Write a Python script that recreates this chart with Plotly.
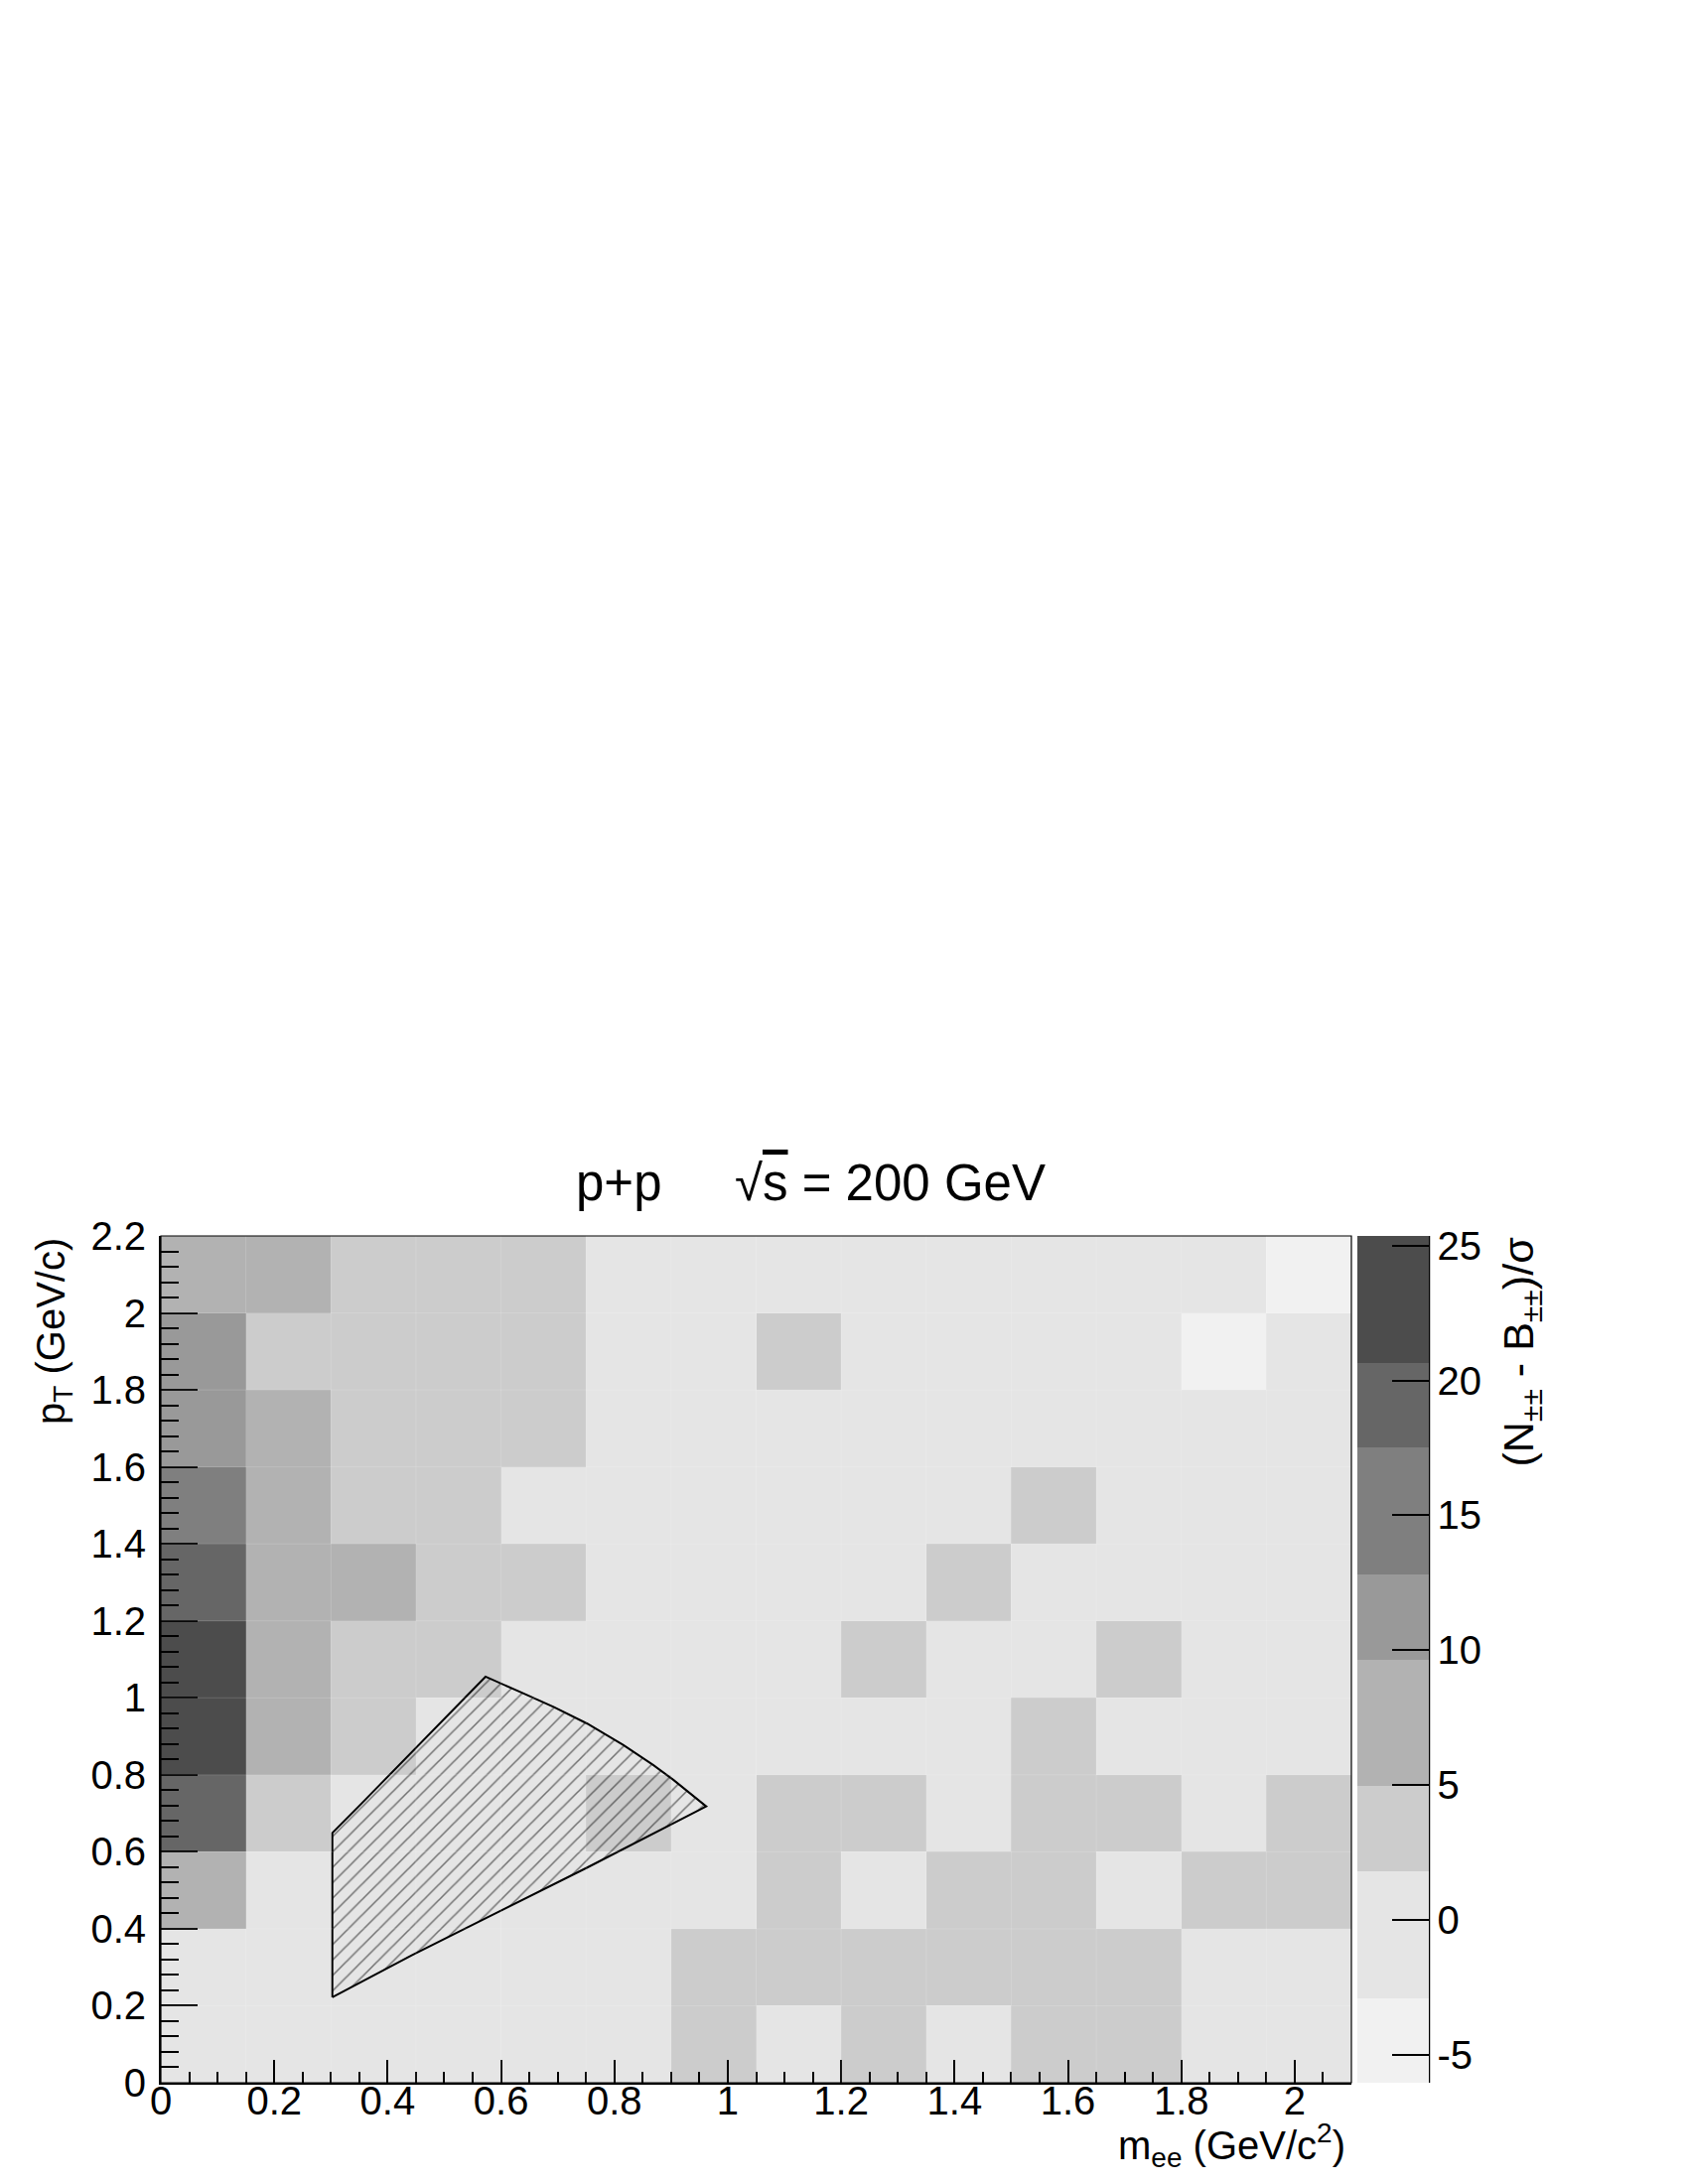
import plotly.graph_objects as go

# ---------------- data ----------------
m_edges = [0.0, 0.15, 0.3, 0.45, 0.6, 0.75, 0.9, 1.05, 1.2, 1.35, 1.5, 1.65, 1.8, 1.95, 2.1]
pt_edges = [0.0, 0.2, 0.4, 0.6, 0.8, 1.0, 1.2, 1.4, 1.6, 1.8, 2.0, 2.2]

# (N - B)/sigma per cell, one list per pT bin (bottom to top), columns follow m_ee bins
sig_pt_00_02 = [0.6, 0.2, -0.4, 0.8, -0.2, 0.5, 3.1, 0.9, 2.8, -0.6, 3.4, 2.7, 0.3, -0.9]
sig_pt_02_04 = [1.1, 0.4, 0.7, -0.3, 0.6, 1.2, 3.6, 2.9, 3.3, 2.5, 3.0, 2.7, -0.5, 0.1]
sig_pt_04_06 = [7.2, 1.3, 0.8, 0.2, 0.5, -0.1, 0.9, 2.6, -0.7, 3.2, 2.9, 0.4, 2.4, 3.5]
sig_pt_06_08 = [19.1, 4.2, 1.4, 0.9, 0.6, 2.8, 1.0, 3.1, 2.6, -0.2, 3.8, 2.4, -0.8, 2.9]
sig_pt_08_10 = [23.4, 7.9, 3.9, 1.2, 0.7, 0.3, 0.8, -0.4, 0.5, 0.9, 2.7, -0.6, 0.2, 1.0]
sig_pt_10_12 = [25.3, 7.4, 4.1, 3.3, 1.5, 0.6, -0.3, 0.4, 2.9, 0.7, -0.8, 2.5, 0.1, -0.4]
sig_pt_12_14 = [19.8, 8.3, 6.1, 4.4, 3.7, 0.9, 0.2, -0.6, 0.8, 3.0, 1.1, -0.2, 0.5, 0.3]
sig_pt_14_16 = [15.6, 7.1, 4.0, 3.6, 1.3, 0.4, -0.5, 0.7, 0.1, 1.0, 2.6, 0.6, -1.1, 0.2]
sig_pt_16_18 = [11.4, 6.8, 4.3, 3.9, 2.9, 1.2, 0.5, 0.2, -0.3, 0.8, 0.4, -0.7, 0.6, -0.2]
sig_pt_18_20 = [10.9, 4.6, 3.8, 3.2, 3.5, 1.0, -0.4, 2.8, 0.3, 0.6, -0.9, 0.5, -4.6, 0.7]
sig_pt_20_22 = [7.0, 8.6, 4.5, 3.4, 3.1, 0.2, 0.9, -0.5, 0.4, -1.2, 0.6, 0.1, -0.8, -6.0]

z_min = -6.04
z_max = 25.36
cbar_tickvals = [-5, 0, 5, 10, 15, 20, 25]
cbar_ticktext = ["-5", "0", "5", "10", "15", "20", "25"]

# acceptance region outline (m_ee, pT)
acc_m = [0.3025, 0.3025, 0.355, 0.5727, 0.635, 0.6935, 0.752, 0.816, 0.869, 0.904, 0.962,
         0.752, 0.571, 0.4425, 0.3025]
acc_pt = [0.222, 0.649, 0.727, 1.055, 1.0145, 0.9758, 0.933, 0.877, 0.825, 0.787, 0.718,
          0.559, 0.4256, 0.331, 0.222]

# ---------------- style ----------------
band_colors = (["#f1f1f1"] * 2 + ["#e5e5e5"] * 3 + ["#cccccc"] * 2 + ["#b2b2b2"] * 3 +
               ["#999999"] * 2 + ["#7f7f7f"] * 3 + ["#666666"] * 2 + ["#4c4c4c"] * 3)
nb = len(band_colors)
colorscale = []
for i, c in enumerate(band_colors):
    colorscale.append([i / nb, c])
    colorscale.append([(i + 1) / nb, c])

FONT = "Liberation Sans, Arial, Helvetica, sans-serif"
W, H = 1700, 2200
PL, PR, PT, PB = 154, 1353, 1237, 2090
CB_L, CB_R = 1359, 1431
SEAM = "rgba(255,255,255,0.16)"


def px(xp):
    return (xp - PL) / (PR - PL)


def py(yp):
    return (PB - yp) / (PB - PT)


z = [sig_pt_00_02, sig_pt_02_04, sig_pt_04_06, sig_pt_06_08, sig_pt_08_10, sig_pt_10_12,
     sig_pt_12_14, sig_pt_14_16, sig_pt_16_18, sig_pt_18_20, sig_pt_20_22]

fig = go.Figure()
fig.add_trace(go.Heatmap(
    x=m_edges, y=pt_edges, z=z, zmin=z_min, zmax=z_max, colorscale=colorscale,
    hoverinfo="skip",
    colorbar=dict(
        x=px(CB_L), xanchor="left", y=0, yanchor="bottom", len=1, lenmode="fraction",
        thickness=CB_R - CB_L, thicknessmode="pixels", xpad=0, ypad=0, outlinewidth=0,
        ticks="inside", ticklen=37, tickwidth=2, tickcolor="black",
        tickmode="array", tickvals=cbar_tickvals, ticktext=cbar_ticktext,
        tickfont=dict(family=FONT, size=40, color="black"),
    ),
))
fig.add_trace(go.Scatter(
    x=acc_m, y=acc_pt, mode="lines", fill="toself",
    line=dict(color="black", width=2),
    fillcolor="rgba(0,0,0,0)",
    fillpattern=dict(shape="/", fgcolor="black", bgcolor="rgba(0,0,0,0)", size=11, solidity=0.14),
    hoverinfo="skip", showlegend=False,
))

axis_common = dict(
    showgrid=False, zeroline=False, showline=True, linecolor="black", linewidth=2,
    ticks="inside", tickwidth=2, tickcolor="black", tickmode="linear", tick0=0, dtick=0.2,
    tickfont=dict(family=FONT, size=40, color="black"), mirror=False, automargin=False,
)
fig.update_xaxes(range=[0, 2.1], ticklen=23, ticklabelstandoff=-18,
                 minor=dict(ticks="inside", ticklen=11, tickwidth=2, tickcolor="black",
                            dtick=0.05, tick0=0, showgrid=False),
                 **axis_common)
fig.update_yaxes(range=[0, 2.2], ticklen=37, ticklabelstandoff=5,
                 minor=dict(ticks="inside", ticklen=18, tickwidth=2, tickcolor="black",
                            dtick=0.04, tick0=0, showgrid=False),
                 **axis_common)

shapes = []
# faint seams between cells (as in the original raster rendering)
for xe in m_edges[1:-1]:
    shapes.append(dict(type="line", xref="x", yref="y", x0=xe, x1=xe, y0=pt_edges[0], y1=pt_edges[-1],
                       line=dict(color=SEAM, width=1), layer="above"))
for ye in pt_edges[1:-1]:
    shapes.append(dict(type="line", xref="x", yref="y", x0=m_edges[0], x1=m_edges[-1], y0=ye, y1=ye,
                       line=dict(color=SEAM, width=1), layer="above"))
# faint seams between colour bands of the palette bar
for k in range(1, nb):
    yb = k / nb
    shapes.append(dict(type="line", xref="paper", yref="paper", x0=px(CB_L), x1=px(CB_R),
                       y0=yb, y1=yb, line=dict(color=SEAM, width=1), layer="above"))
shapes += [
    dict(type="rect", xref="paper", yref="paper", x0=0, x1=1, y0=0, y1=1,
         line=dict(color="black", width=1.2), layer="above"),
    dict(type="line", xref="paper", yref="paper", x0=px(CB_R), x1=px(CB_R), y0=0, y1=1,
         line=dict(color="black", width=2.5), layer="above"),
]

annotations = [
    dict(text="p+p", x=px(615), y=py(1183), xanchor="center", yanchor="middle",
         font=dict(family=FONT, size=51, color="black")),
    dict(text="\u221a<span style='text-decoration:overline'>s</span> = 200 GeV",
         x=px(730), y=py(1183), xanchor="left", yanchor="middle",
         font=dict(family=FONT, size=51, color="black")),
    dict(text="p<sub>T</sub> (GeV/c)", textangle=-90, x=px(46), y=py(1237),
         xanchor="center", yanchor="top", font=dict(family=FONT, size=40, color="black")),
    dict(text="m<sub>ee</sub> (GeV/c<sup>2</sup>)", x=px(1349), y=py(2153),
         xanchor="right", yanchor="middle", font=dict(family=FONT, size=40, color="black")),
    dict(text="(N<sub>\u00b1\u00b1</sub> - B<sub>\u00b1\u00b1</sub>)/\u03c3", textangle=-90,
         x=px(1523), y=py(1237), xanchor="center", yanchor="top",
         font=dict(family=FONT, size=43, color="black")),
]
for a in annotations:
    a.update(xref="paper", yref="paper", showarrow=False)

fig.update_layout(
    width=W, height=H, autosize=False,
    margin=dict(l=PL, r=W - PR, t=PT, b=H - PB, pad=0),
    paper_bgcolor="white", plot_bgcolor="white",
    shapes=shapes, annotations=annotations, showlegend=False,
)

fig.write_html("out.html")
